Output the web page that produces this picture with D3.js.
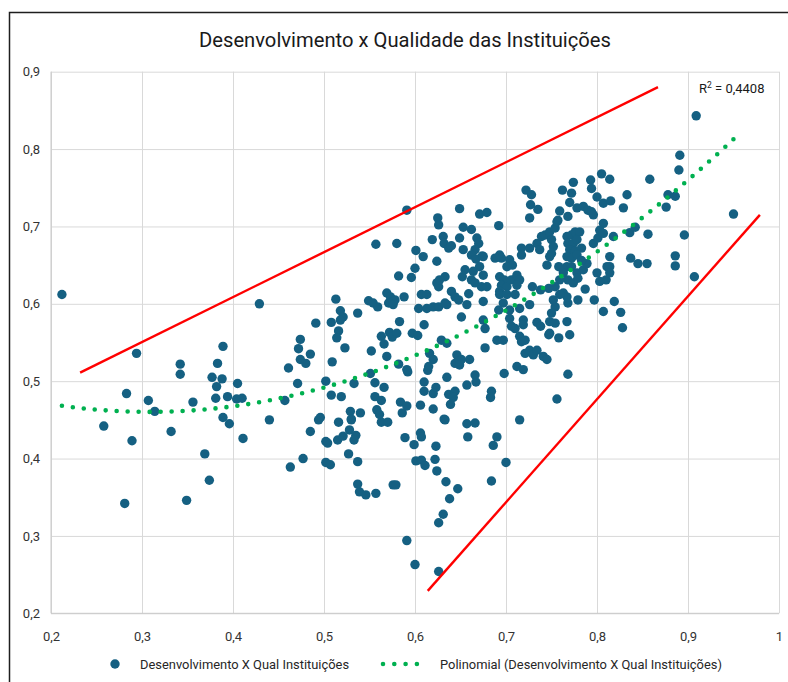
<!DOCTYPE html>
<html>
<head>
<meta charset="utf-8">
<script src="https://cdn.jsdelivr.net/npm/d3@7"></script>
<style>
  body { margin: 0; background: #fff; }
  svg { display: block; font-family: Roboto, "Liberation Sans", sans-serif; }
</style>
</head>
<body>
<div id="chart"></div>
<script>
// valores: [desenvolvimento, qualidade das instituições]
let pontos = [
  [0.212,0.612],[0.429,0.600],[0.294,0.536],[0.342,0.522],[0.342,0.509],[0.389,0.545],[0.383,0.523],[0.377,0.505],
  [0.388,0.503],[0.405,0.497],[0.382,0.493],[0.381,0.478],[0.394,0.480],[0.404,0.477],[0.410,0.478],[0.283,0.484],
  [0.307,0.475],[0.314,0.461],[0.356,0.473],[0.258,0.442],[0.289,0.423],[0.332,0.435],[0.389,0.453],[0.396,0.445],
  [0.411,0.426],[0.440,0.450],[0.369,0.406],[0.374,0.372],[0.281,0.342],[0.349,0.346],
  [0.463,0.389],[0.477,0.400],[0.485,0.435],[0.502,0.422],[0.504,0.420],[0.502,0.395],[0.507,0.392],[0.515,0.424],
  [0.521,0.429],[0.528,0.437],[0.535,0.430],[0.533,0.424],[0.527,0.406],[0.537,0.396],[0.537,0.367],[0.539,0.357],
  [0.546,0.353],[0.557,0.355],[0.516,0.447],[0.530,0.450],[0.563,0.447],[0.570,0.447],[0.576,0.366],[0.494,0.450],
  [0.471,0.497],[0.457,0.475],[0.496,0.453],[0.502,0.500],[0.508,0.482],[0.519,0.480],[0.533,0.497],[0.551,0.510],
  [0.556,0.498],[0.566,0.492],[0.556,0.480],[0.563,0.475],[0.529,0.461],[0.540,0.459],[0.530,0.451],[0.558,0.463],
  [0.561,0.457],[0.579,0.366],[0.584,0.473],[0.591,0.468],[0.586,0.459],[0.606,0.469],[0.620,0.464],[0.592,0.512],
  [0.614,0.514],[0.610,0.499],[0.610,0.487],[0.623,0.492],[0.620,0.484],[0.589,0.427],[0.599,0.418],[0.606,0.433],
  [0.607,0.428],[0.623,0.416],[0.601,0.397],[0.607,0.398],[0.611,0.391],[0.622,0.399],[0.624,0.384],[0.591,0.294],
  [0.600,0.263],[0.626,0.254],[0.626,0.317],
  [0.634,0.370],[0.647,0.361],[0.638,0.348],[0.631,0.328],[0.657,0.445],[0.666,0.446],[0.658,0.428],[0.686,0.417],
  [0.690,0.428],[0.700,0.395],[0.684,0.371],[0.633,0.450],[0.715,0.450],
  [0.635,0.505],[0.666,0.508],[0.667,0.499],[0.698,0.510],[0.657,0.495],[0.684,0.487],[0.683,0.479],[0.637,0.483],
  [0.644,0.487],[0.642,0.479],[0.639,0.470],[0.632,0.451],[0.756,0.477],[0.768,0.509],
  [0.591,0.721],[0.557,0.677],[0.580,0.678],[0.625,0.711],[0.626,0.702],[0.619,0.683],[0.601,0.669],[0.609,0.661],
  [0.624,0.655],[0.600,0.646],[0.582,0.636],[0.596,0.634],[0.624,0.627],[0.626,0.622],[0.569,0.614],[0.573,0.609],
  [0.578,0.605],[0.571,0.601],[0.576,0.599],[0.588,0.609],[0.607,0.612],[0.613,0.612],[0.604,0.594],[0.613,0.594],
  [0.620,0.596],[0.626,0.596],[0.549,0.604],[0.554,0.601],[0.559,0.596],[0.513,0.606],[0.518,0.591],[0.521,0.583],
  [0.518,0.579],[0.537,0.588],[0.491,0.575],[0.508,0.576],[0.516,0.565],[0.514,0.556],[0.523,0.543],[0.474,0.554],
  [0.472,0.542],[0.485,0.535],[0.474,0.528],[0.480,0.523],[0.509,0.525],[0.461,0.517],[0.583,0.577],[0.610,0.573],
  [0.563,0.558],[0.572,0.563],[0.575,0.557],[0.580,0.562],[0.566,0.548],[0.597,0.562],[0.603,0.559],[0.552,0.539],
  [0.569,0.532],[0.582,0.522],[0.591,0.515],[0.616,0.536],[0.620,0.528],[0.615,0.519],
  [0.722,0.747],[0.728,0.741],[0.727,0.728],[0.735,0.722],[0.726,0.711],[0.762,0.747],[0.772,0.743],[0.774,0.757],
  [0.793,0.760],[0.794,0.749],[0.805,0.768],[0.800,0.738],[0.807,0.730],[0.770,0.731],[0.778,0.724],[0.785,0.726],
  [0.790,0.721],[0.794,0.719],[0.796,0.715],[0.759,0.720],[0.757,0.708],[0.768,0.713],[0.807,0.704],[0.803,0.695],
  [0.649,0.723],[0.671,0.716],[0.679,0.718],[0.692,0.701],[0.653,0.699],[0.662,0.696],[0.631,0.687],[0.632,0.678],
  [0.649,0.685],[0.668,0.685],[0.670,0.678],[0.637,0.672],[0.640,0.675],[0.666,0.670],[0.662,0.663],[0.667,0.658],
  [0.674,0.662],[0.653,0.670],[0.671,0.648],[0.675,0.637],[0.664,0.642],[0.652,0.635],[0.662,0.631],[0.666,0.627],
  [0.673,0.622],[0.693,0.663],[0.695,0.659],[0.704,0.657],[0.707,0.650],[0.701,0.648],[0.693,0.635],[0.698,0.631],
  [0.695,0.624],[0.701,0.622],[0.706,0.631],[0.712,0.637],[0.715,0.631],[0.712,0.624],[0.679,0.622],[0.717,0.672],
  [0.717,0.663],[0.726,0.672],[0.734,0.678],[0.737,0.670],[0.745,0.650],[0.748,0.661],[0.739,0.687],[0.743,0.689],
  [0.748,0.693],[0.754,0.698],[0.756,0.706],[0.750,0.683],[0.752,0.674],[0.750,0.665],
  [0.767,0.687],[0.772,0.689],[0.776,0.693],[0.781,0.693],[0.768,0.678],[0.774,0.678],[0.778,0.683],[0.770,0.670],
  [0.776,0.668],[0.783,0.672],[0.767,0.661],[0.772,0.659],[0.778,0.663],[0.767,0.648],[0.763,0.640],[0.772,0.648],
  [0.778,0.640],[0.768,0.631],[0.774,0.627],[0.779,0.633],[0.785,0.644],[0.789,0.652],[0.783,0.656],
  [0.758,0.648],[0.759,0.631],[0.754,0.622],[0.763,0.614],[0.767,0.609],[0.759,0.612],[0.779,0.605],[0.787,0.619],
  [0.797,0.605],[0.807,0.590],[0.811,0.648],[0.810,0.631],[0.796,0.678],[0.801,0.685],[0.807,0.691],[0.800,0.640],
  [0.803,0.629],[0.752,0.605],[0.754,0.596],[0.750,0.588],[0.748,0.577],[0.754,0.575],[0.748,0.562],[0.768,0.601],
  [0.767,0.577],[0.758,0.556],[0.770,0.560],[0.747,0.620],[0.738,0.618],[0.729,0.622],[0.726,0.599],[0.715,0.594],
  [0.710,0.612],[0.734,0.576],[0.738,0.571],[0.747,0.560],[0.704,0.581],[0.706,0.571],[0.710,0.568],[0.719,0.579],
  [0.719,0.573],[0.715,0.558],[0.717,0.551],[0.721,0.553],[0.721,0.536],[0.726,0.540],[0.730,0.534],[0.741,0.532],
  [0.745,0.528],[0.734,0.540],
  [0.655,0.644],[0.675,0.661],[0.688,0.659],[0.633,0.635],[0.627,0.631],[0.640,0.616],[0.644,0.609],[0.648,0.605],
  [0.659,0.613],[0.633,0.601],[0.635,0.599],[0.657,0.599],[0.675,0.603],[0.693,0.616],[0.693,0.612],[0.701,0.612],
  [0.697,0.601],[0.704,0.592],[0.651,0.583],[0.675,0.579],[0.677,0.568],[0.692,0.592],[0.690,0.553],[0.697,0.553],
  [0.677,0.543],[0.646,0.534],[0.651,0.528],[0.660,0.528],[0.644,0.523],[0.649,0.521],[0.712,0.519],[0.719,0.515],
  [0.629,0.553],[0.635,0.549],
  [0.909,0.843],[0.891,0.792],[0.890,0.773],[0.858,0.761],[0.814,0.761],[0.815,0.733],[0.833,0.741],[0.829,0.724],
  [0.878,0.741],[0.886,0.739],[0.876,0.725],[0.950,0.716],[0.818,0.687],[0.836,0.692],[0.842,0.699],[0.856,0.690],
  [0.896,0.689],[0.814,0.661],[0.814,0.648],[0.814,0.640],[0.837,0.659],[0.845,0.652],[0.855,0.652],[0.886,0.662],
  [0.886,0.649],[0.907,0.635],[0.819,0.603],[0.826,0.589],[0.828,0.569]
];

// linhas vermelhas desenhadas à mão no gráfico original
let limiteSuperior = [[0.232,0.511],[0.867,0.880]];
let limiteInferior = [[0.614,0.229],[0.979,0.715]];

let xTicks = [0.2,0.3,0.4,0.5,0.6,0.7,0.8,0.9,1];
let yTicks = [0.2,0.3,0.4,0.5,0.6,0.7,0.8,0.9];

let titulo = "Desenvolvimento x Qualidade das Instituições";
let serieNome = "Desenvolvimento X Qual Instituições";
let tendenciaNome = "Polinomial (Desenvolvimento X Qual Instituições)";
let r2Texto = "0,4408";

let width = 788;
let height = 682;
let margin = {left: 51, right: 9, top: 71.7, bottom: 68.7};

let x = d3.scaleLinear().domain([0.2, 1]).range([margin.left, width - margin.right]);
let y = d3.scaleLinear().domain([0.2, 0.9]).range([height - margin.bottom, margin.top]);

let fmt = (d) => d === 1 ? "1" : d.toFixed(1).replace(".", ",");

let svg = d3.select("#chart").append("svg")
  .attr("width", width)
  .attr("height", height);

// moldura do gráfico
svg.append("rect")
  .attr("x", 9.5).attr("y", 12.5)
  .attr("width", 800).attr("height", 700)
  .attr("fill", "#fff")
  .attr("stroke", "#1e1e1e")
  .attr("stroke-width", 1.5);

svg.append("text")
  .attr("x", 405).attr("y", 47)
  .attr("text-anchor", "middle")
  .attr("font-size", 20.2)
  .attr("fill", "#1a1a1a")
  .text(titulo);

// grades
svg.append("g")
  .attr("transform", `translate(0,${y(0.2)})`)
  .call(d3.axisBottom(x).tickValues(xTicks).tickSize(-(y(0.2) - y(0.9))).tickFormat(""))
  .call(g => g.select(".domain").remove())
  .call(g => g.selectAll("line").attr("stroke", "#d9d9d9"));

svg.append("g")
  .attr("transform", `translate(${x(0.2)},0)`)
  .call(d3.axisLeft(y).tickValues(yTicks).tickSize(-(x(1) - x(0.2))).tickFormat(""))
  .call(g => g.select(".domain").remove())
  .call(g => g.selectAll("line").attr("stroke", "#d9d9d9"));

// eixos
svg.append("line")
  .attr("x1", x(0.2)).attr("x2", x(0.2))
  .attr("y1", y(0.9)).attr("y2", y(0.2))
  .attr("stroke", "#c8c8c8");
svg.append("line")
  .attr("x1", x(0.2)).attr("x2", x(1))
  .attr("y1", y(0.2)).attr("y2", y(0.2))
  .attr("stroke", "#c8c8c8");

svg.append("g")
  .attr("transform", `translate(0,${y(0.2)})`)
  .call(d3.axisBottom(x).tickValues(xTicks).tickSize(0).tickPadding(18).tickFormat(fmt))
  .call(g => g.select(".domain").remove())
  .call(g => g.selectAll("text").attr("font-size", 13).attr("fill", "#333")
    .attr("font-family", "Roboto, sans-serif"));

svg.append("g")
  .attr("transform", `translate(${x(0.2) - 11},0)`)
  .call(d3.axisLeft(y).tickValues(yTicks).tickSize(0).tickPadding(0).tickFormat(fmt))
  .call(g => g.select(".domain").remove())
  .call(g => g.selectAll("text").attr("font-size", 13).attr("fill", "#333")
    .attr("font-family", "Roboto, sans-serif"));

// pontos
svg.append("g")
  .selectAll("circle")
  .data(pontos)
  .enter()
  .append("circle")
  .attr("cx", d => x(d[0]))
  .attr("cy", d => y(d[1]))
  .attr("r", 4.7)
  .attr("fill", "#156082");

// tendência polinomial (ordem 2) ajustada por mínimos quadrados
function ajustePolinomial(dados) {
  let s = [0, 0, 0, 0, 0], t = [0, 0, 0];
  dados.forEach(([a, b]) => {
    for (let k = 0; k < 5; k++) s[k] += Math.pow(a, k);
    for (let k = 0; k < 3; k++) t[k] += b * Math.pow(a, k);
  });
  let M = [[s[0], s[1], s[2], t[0]], [s[1], s[2], s[3], t[1]], [s[2], s[3], s[4], t[2]]];
  for (let i = 0; i < 3; i++) {
    for (let j = i + 1; j < 3; j++) {
      let f = M[j][i] / M[i][i];
      for (let k = i; k < 4; k++) M[j][k] -= f * M[i][k];
    }
  }
  let c = [0, 0, 0];
  for (let i = 2; i >= 0; i--) {
    let v = M[i][3];
    for (let k = i + 1; k < 3; k++) v -= M[i][k] * c[k];
    c[i] = v / M[i][i];
  }
  return c;
}

let coef = ajustePolinomial(pontos);
let xmin = d3.min(pontos, d => d[0]);
let xmax = d3.max(pontos, d => d[0]);
let curva = d3.range(0, 101).map(i => {
  let a = xmin + (xmax - xmin) * i / 100;
  return [a, coef[0] + coef[1] * a + coef[2] * a * a];
});

let linha = d3.line().x(d => x(d[0])).y(d => y(d[1]));

svg.append("path")
  .datum(curva)
  .attr("d", linha)
  .attr("fill", "none")
  .attr("stroke", "#00b050")
  .attr("stroke-width", 4.6)
  .attr("stroke-linecap", "round")
  .attr("stroke-dasharray", "0 11");

[limiteSuperior, limiteInferior].forEach(seg => {
  svg.append("path")
    .datum(seg)
    .attr("d", linha)
    .attr("fill", "none")
    .attr("stroke", "#ff0000")
    .attr("stroke-width", 2.4);
});

// R²
let r2 = svg.append("text")
  .attr("x", 699).attr("y", 93)
  .attr("font-size", 13)
  .attr("fill", "#1a1a1a");
r2.append("tspan").text("R");
r2.append("tspan").attr("font-size", 8.5).attr("dy", -5).text("2");
r2.append("tspan").attr("dy", 5).text(" = " + r2Texto);

// legenda
let leg = svg.append("g").attr("font-size", 12.9).attr("fill", "#262626");
leg.append("circle").attr("cx", 115).attr("cy", 664).attr("r", 4.7).attr("fill", "#156082");
leg.append("text").attr("x", 140).attr("y", 668.5).attr("fill", "#262626").text(serieNome);
leg.append("line")
  .attr("x1", 383).attr("x2", 428).attr("y1", 664).attr("y2", 664)
  .attr("stroke", "#00b050").attr("stroke-width", 4.6)
  .attr("stroke-linecap", "round").attr("stroke-dasharray", "0 11.3");
leg.append("text").attr("x", 440).attr("y", 668.5).attr("fill", "#262626").text(tendenciaNome);
</script>
</body>
</html>
